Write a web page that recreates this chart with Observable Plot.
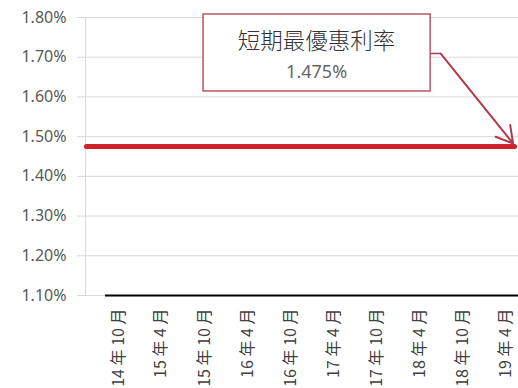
<!DOCTYPE html>
<html>
<head>
<meta charset="utf-8">
<script src="https://cdn.jsdelivr.net/npm/d3@7"></script>
<script src="https://cdn.jsdelivr.net/npm/@observablehq/plot@0.6"></script>
<style>
  html, body { margin: 0; padding: 0; background: #fff; }
  #chart svg { display: block; }
</style>
</head>
<body>
<div id="chart"></div>
<script>
// ---- data ----
const tickDates = ["2014-10-01","2015-04-01","2015-10-01","2016-04-01","2016-10-01","2017-04-01","2017-10-01","2018-04-01","2018-10-01","2019-04-01"];
const tickLabels = ["14 年 10 月","15 年 4 月","15 年 10 月","16 年 4 月","16 年 10 月","17 年 4 月","17 年 10 月","18 年 4 月","18 年 10 月","19 年 4 月"];
const xDomain = ["2014-05-14","2019-05-26"];
const yTicks = [1.10, 1.20, 1.30, 1.40, 1.50, 1.60, 1.70, 1.80];
const rateDates = ["2014-05-18","2019-05-09"];
const rateValues = [1.475, 1.475];
const baseDates = ["2014-08-07","2019-05-26"];
const baseValue = 1.10;
const annTitle = "短期最優惠利率";
const annValue = "1.475%";
const boxX = ["2015-09-27","2018-05-18"];
const boxY = [1.6137, 1.8076];
const annTextX = "2017-01-19";
const annTitleY = 1.740;
const annValueY = 1.6615;
const connX = ["2018-05-18","2018-06-29"];
const connY = 1.7094;
const arrowEnd = ["2019-05-03", 1.4827];

const P = s => new Date(s + "T00:00:00Z");
const ticks = tickDates.map(P);
const labelOf = new Map(ticks.map((d, i) => [+d, tickLabels[i]]));
const rate = rateDates.map((d, i) => ({date: P(d), value: rateValues[i]}));
const dom = xDomain.map(P);

const chart = Plot.plot({
  width: 518,
  height: 388,
  marginLeft: 85,
  marginRight: 0,
  marginTop: 17,
  marginBottom: 93,
  style: {fontFamily: "'Noto Sans', 'Noto Sans CJK TC', sans-serif", background: "#fff"},
  x: {type: "utc", domain: dom},
  y: {domain: [1.10, 1.80]},
  marks: [
    Plot.gridY(yTicks, {stroke: "#d9d9d9", strokeOpacity: 1}),
    Plot.axisY(yTicks, {tickSize: 8, tickPadding: 11, stroke: "#d9d9d9", strokeOpacity: 1, fill: "#595959", fontSize: 16, label: null, tickFormat: d => d.toFixed(2) + "%"}),
    Plot.ruleX([dom[0]], {y1: 1.10, y2: 1.80, stroke: "#d9d9d9"}),
    Plot.axisX(ticks, {tickSize: 0, tickPadding: 13, tickRotate: -90, fill: "#404040", fontSize: 16, fontFamily: "'Noto Sans CJK JP', sans-serif", tickFormat: d => labelOf.get(+d), label: null}),
    Plot.ruleY([baseValue], {x1: P(baseDates[0]), x2: P(baseDates[1]), stroke: "#000", strokeWidth: 2}),
    Plot.line(rate, {x: "date", y: "value", stroke: "#d0202a", strokeWidth: 5, strokeLinecap: "round"}),
    Plot.rect([{}], {x1: P(boxX[0]), x2: P(boxX[1]), y1: boxY[0], y2: boxY[1], fill: "#fff", stroke: "#b03a4c", strokeWidth: 1.3}),
    Plot.link([{}], {x1: P(connX[0]), x2: P(connX[1]), y1: connY, y2: connY, stroke: "#b03a4c", strokeWidth: 1.5}),
    Plot.arrow([{}], {x1: P(connX[1]), y1: connY, x2: P(arrowEnd[0]), y2: arrowEnd[1], stroke: "#b03a4c", strokeWidth: 2, headLength: 14, bend: 0}),
    Plot.text([annTitle], {x: P(annTextX), y: annTitleY, fontSize: 22.5, fill: "#333", fontWeight: 300, fontFamily: "'Noto Sans CJK TC', sans-serif"}),
    Plot.text([annValue], {x: P(annTextX), y: annValueY, fontSize: 18, fill: "#666"})
  ]
});
document.getElementById("chart").appendChild(chart);
</script>
</body>
</html>
